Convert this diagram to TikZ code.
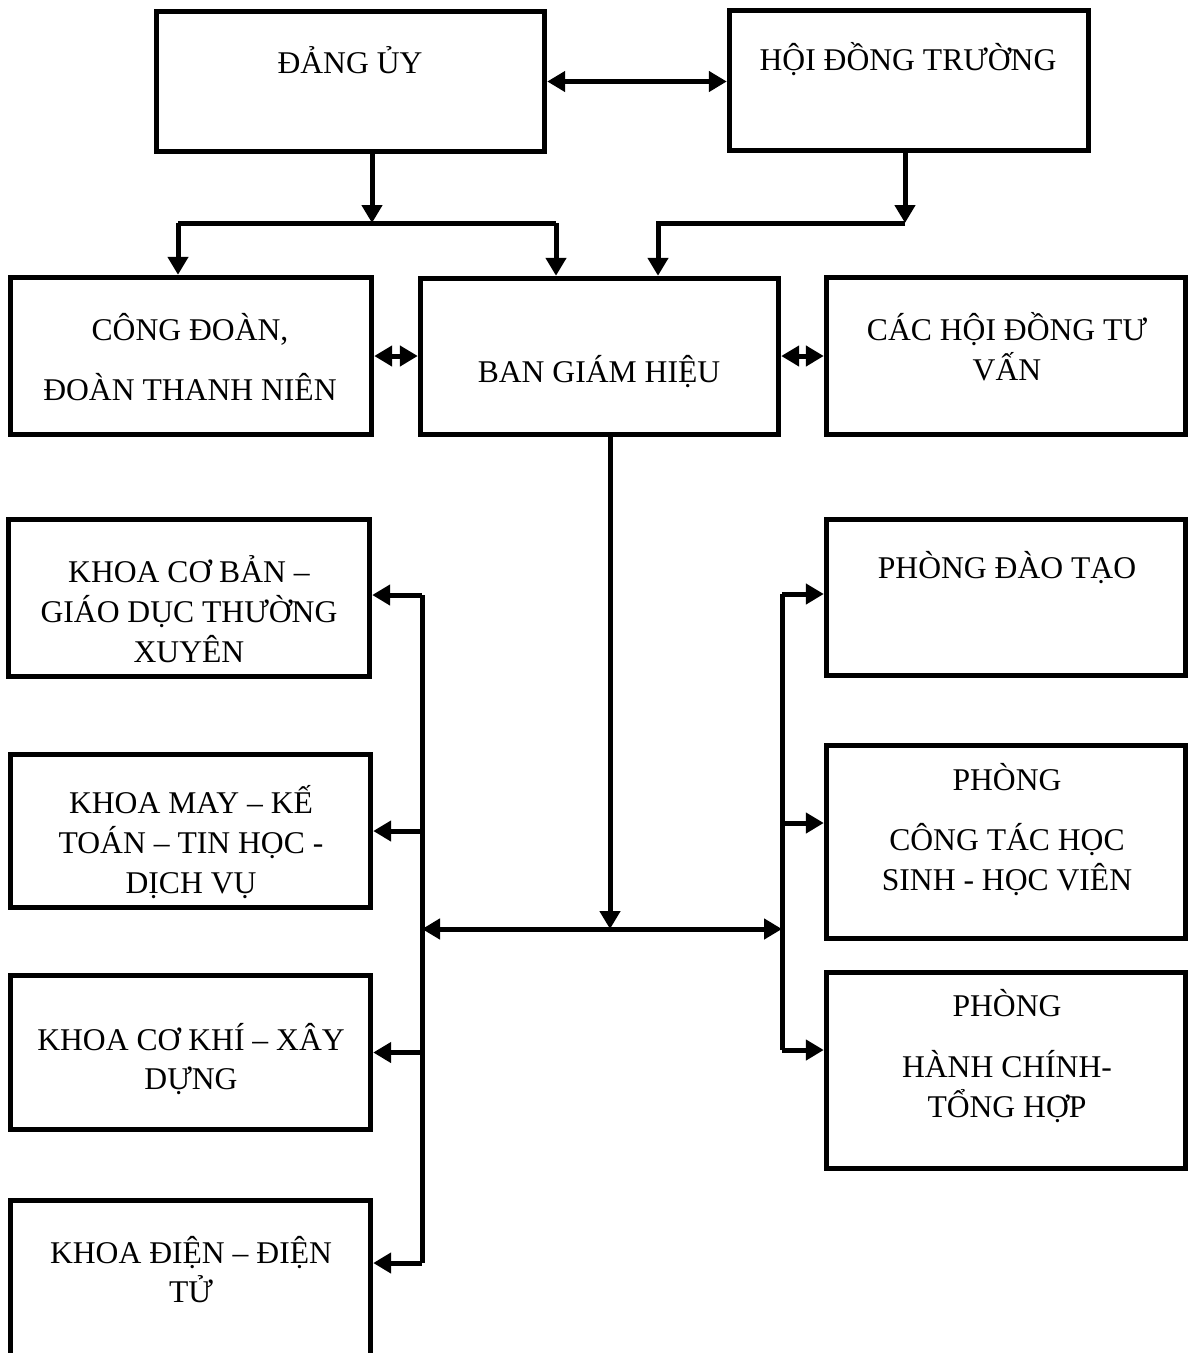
\documentclass[tikz,border=0pt]{standalone}
\usepackage{fontspec}
\setmainfont{Liberation Serif}
\usepackage{tikz}
\usetikzlibrary{arrows.meta}

\begin{document}
\begin{tikzpicture}[x=0.02cm, y=-0.02cm,
		box/.style={draw, line width=0.11cm, rectangle},
		lbl/.style={align=center, inner sep=0pt, font=\fontsize{18}{22.7}\selectfont},
		arr/.style={line width=0.1cm, -{Triangle[length=0.36cm,width=0.4cm]}},
		biarr/.style={line width=0.1cm, {Triangle[length=0.36cm,width=0.4cm]}-{Triangle[length=0.36cm,width=0.4cm]}},
		bus/.style={line width=0.1cm}]
			\clip (0,0) rectangle (1189,1353);
			
			\node[box, minimum width=7.76cm, minimum height=2.8cm] (dang) at (350.5,81.5) {};
			\node[box, minimum width=7.18cm, minimum height=2.8cm] (hoidong) at (909,80.5) {};
			\node[box, minimum width=7.22cm, minimum height=3.14cm] (congdoan) at (191,356) {};
			\node[box, minimum width=7.16cm, minimum height=3.12cm] (ban) at (599.5,356.5) {};
			\node[box, minimum width=7.18cm, minimum height=3.14cm] (tuvan) at (1006,356) {};
			\node[box, minimum width=7.22cm, minimum height=3.14cm] (kcb) at (189,598) {};
			\node[box, minimum width=7.2cm, minimum height=3.06cm] (kmay) at (190.5,831) {};
			\node[box, minimum width=7.2cm, minimum height=3.08cm] (kck) at (190.5,1052.5) {};
			\node[box, minimum width=7.2cm, minimum height=3.24cm] (kdien) at (190.5,1281.5) {};
			\node[box, minimum width=7.18cm, minimum height=3.12cm] (pdt) at (1006,597.5) {};
			\node[box, minimum width=7.18cm, minimum height=3.86cm] (pctac) at (1006,842) {};
			\node[box, minimum width=7.18cm, minimum height=3.92cm] (phcth) at (1006,1070.5) {};
			
			\node[lbl] (tdang) at (350,60) {ĐẢNG ỦY};
			\node[lbl] (thoidong) at (908,59) {HỘI ĐỒNG TRƯỜNG};
			\node[lbl] (tcongdoan) at (190,357) {CÔNG ĐOÀN,\\[0.4cm]ĐOÀN THANH NIÊN};
			\node[lbl] (tban) at (599,372) {BAN GIÁM HIỆU};
			\node[lbl] (ttuvan) at (1007,347) {CÁC HỘI ĐỒNG TƯ\\VẤN};
			\node[lbl] (tkcb) at (189,609) {KHOA CƠ BẢN –\\GIÁO DỤC THƯỜNG\\XUYÊN};
			\node[lbl] (tkmay) at (191,842) {KHOA MAY – KẾ\\TOÁN – TIN HỌC -\\DỊCH VỤ};
			\node[lbl] (tkck) at (191,1059) {KHOA CƠ KHÍ – XÂY\\DỰNG};
			\node[lbl] (tkdien) at (191,1269.5) {KHOA ĐIỆN – ĐIỆN\\TỬ};
			\node[lbl] (tpdt) at (1007,568) {PHÒNG ĐÀO TẠO};
			\node[lbl] (tpctac) at (1007,829.5) {PHÒNG\\[0.42cm]CÔNG TÁC HỌC\\SINH - HỌC VIÊN};
			\node[lbl] (tphcth) at (1007,1056) {PHÒNG\\[0.44cm]HÀNH CHÍNH-\\TỔNG HỢP};
			
			\coordinate (dsplit) at (372,223);
			\coordinate (dleft) at (178,223);
			\coordinate (dright) at (556,223);
			\coordinate (hsplit) at (905,223);
			\coordinate (hleft) at (658,223);
			\coordinate (mid) at (610,929);
			\coordinate (ltop) at (422,595);
			\coordinate (lbot) at (422,1263);
			\coordinate (rtop) at (782,594);
			\coordinate (rmid) at (782,823);
			\coordinate (rbot) at (782,1050);
			
			\draw[biarr] (dang.east) -- (dang.east -| hoidong.west);
			\draw[arr] (dang.south -| dsplit) -- (dsplit);
			\draw[bus] (dleft) -- (dright);
			\draw[arr] (dleft) -- (dleft |- congdoan.north);
			\draw[arr] (dright) -- (dright |- ban.north);
			\draw[arr] (hoidong.south -| hsplit) -- (hsplit);
			\draw[arr] (hsplit) -| (hleft |- ban.north);
			
			\draw[biarr] (congdoan.east) -- (ban.west |- congdoan.east);
			\draw[biarr] (ban.east |- tuvan.west) -- (tuvan.west);
			
			\draw[arr] (ban.south -| mid) -- (mid);
			\draw[biarr] (mid -| ltop) -- (mid -| rtop);
			
			\draw[bus] (ltop) -- (lbot);
			\draw[arr] (ltop) -- (ltop -| kcb.east);
			\draw[arr] (ltop |- kmay.east) -- (kmay.east);
			\draw[arr] (ltop |- kck.east) -- (kck.east);
			\draw[arr] (lbot) -- (lbot -| kdien.east);
			
			\draw[bus] (rtop) -- (rbot);
			\draw[arr] (rtop) -- (rtop -| pdt.west);
			\draw[arr] (rmid) -- (rmid -| pctac.west);
			\draw[arr] (rbot) -- (rbot -| phcth.west);
		\end{tikzpicture}
\end{document}
